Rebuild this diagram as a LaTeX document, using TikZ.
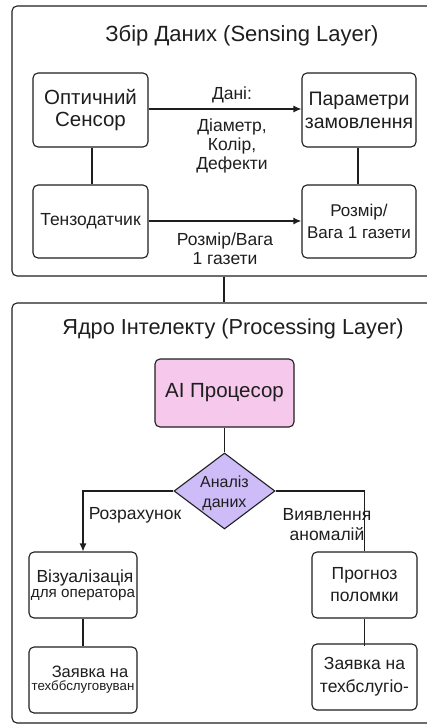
\documentclass[tikz,border=0pt]{standalone}
\usepackage{fontspec}
\setmainfont{Liberation Sans}
\usetikzlibrary{arrows.meta,shapes.geometric}
\definecolor{procpink}{HTML}{F5C8EC}
\definecolor{diamlilac}{HTML}{CDBCF8}
\definecolor{ink}{HTML}{1E1E1E}
\tikzset{
  frame/.style={draw=ink,line width=1.1pt,rounded corners=5pt,inner sep=0pt},
  box/.style={draw=ink,line width=1.1pt,rounded corners=5pt,fill=white,
    align=center,inner sep=0pt,text=ink},
  link/.style={draw=ink,line width=1.2pt},
  flow/.style={draw=ink,line width=1.2pt,-{Latex[length=8pt,width=7pt]}},
  lbl/.style={align=center,text=ink,inner sep=0pt},
}
\begin{document}
\begin{tikzpicture}[x=1pt,y=-1pt]
\useasboundingbox (0,0) rectangle (427,724);
\clip (0,0) rectangle (427,724);

% layer frames
\node[frame,minimum width=428pt,minimum height=270pt] (sense) at (226,141) {};
\node[frame,minimum width=428pt,minimum height=420pt] (proc) at (226,513) {};
\node[lbl,font=\fontsize{22}{24}\selectfont] (t1) at (242,36) {Збір Даних (Sensing Layer)};
\node[lbl,font=\fontsize{21.7}{24}\selectfont] (t2) at (233,329) {Ядро Інтелекту (Processing Layer)};

% sensing layer
\node[box,minimum width=115pt,minimum height=74pt,font=\fontsize{20.5}{22.5}\selectfont] (opt) at (90.5,110) {Оптичний\\Сенсор};
\node[box,minimum width=114pt,minimum height=74pt,font=\fontsize{19.5}{23}\selectfont] (par) at (359,110) {Параметри\\замовлення};
\node[box,minimum width=115pt,minimum height=73pt,font=\fontsize{17.5}{20}\selectfont] (ten) at (90.5,221.5) {Тензодатчик};
\node[box,minimum width=114pt,minimum height=73pt,font=\fontsize{17}{22}\selectfont] (roz) at (359,221.5) {Розмір/\\Вага 1 газети};

\draw[flow] (opt.east |- 0,109) -- (par.west |- 0,109);
\draw[flow,line width=1.8pt] (ten.east |- 0,221) -- (roz.west |- 0,221);
\draw[link] (opt.south -| 92,0) -- (ten.north -| 92,0);
\draw[link] (par.south -| 358,0) -- (roz.north -| 358,0);

\node[lbl,font=\fontsize{17.5}{19}\selectfont] (l1) at (232,95) {Дані:};
\node[lbl,font=\fontsize{17.5}{19}\selectfont] (l2) at (232,146) {Діаметр,\\Колір,\\Дефекти};
\node[lbl,font=\fontsize{17.5}{19}\selectfont] (l3) at (225,249) {Розмір/Вага\\1 газети};

% layer link
\draw[link] (sense.south -| 224,0) -- (proc.north -| 224,0);

% processing layer
\node[box,fill=procpink,minimum width=139pt,minimum height=68pt,font=\fontsize{20.5}{22}\selectfont] (ai) at (224.5,393) {AI Процесор};
\node[draw=ink,line width=1.1pt,fill=diamlilac,shape=diamond,minimum width=101pt,minimum height=76pt,inner sep=0pt] (an) at (224.5,491) {};
\node[lbl,font=\fontsize{16}{20}\selectfont] (ant) at (224.5,493) {Аналіз\\даних};
\draw[link] (ai.south) -- (an.north);

\node[box,minimum width=108pt,minimum height=66pt] (viz) at (83,585)
  {\hspace*{4pt}{\fontsize{17.5}{20}\selectfont Візуалізація}\\[3pt]{\fontsize{15.2}{18}\selectfont для оператора}};
\node[box,minimum width=108pt,minimum height=66pt] (zl) at (83,680)
  {\hspace*{14pt}{\fontsize{16.5}{18}\selectfont Заявка на}\\[1pt]{\fontsize{13.3}{16}\selectfont техббслуговуван}};
\node[box,minimum width=105pt,minimum height=66pt,font=\fontsize{17.5}{22}\selectfont] (pr) at (364.5,585) {Прогноз\\поломки};
\node[box,minimum width=105pt,minimum height=66pt,font=\fontsize{17.5}{23}\selectfont] (zr) at (364.5,677) {Заявка на\\техбслугіо-};

\draw[flow] (an.west) -| (viz.north);
\draw[link] (an.east) -| (pr.north);
\draw[link] (viz.south) -- (zl.north);
\draw[link] (pr.south) -- (zr.north |- zl.north);

\node[lbl,font=\fontsize{17.5}{19}\selectfont] (l4) at (135,515) {Розрахунок};
\node[lbl,font=\fontsize{17.5}{20}\selectfont] (l5) at (327,525) {Виявлення\\аномалій};
\end{tikzpicture}
\end{document}
